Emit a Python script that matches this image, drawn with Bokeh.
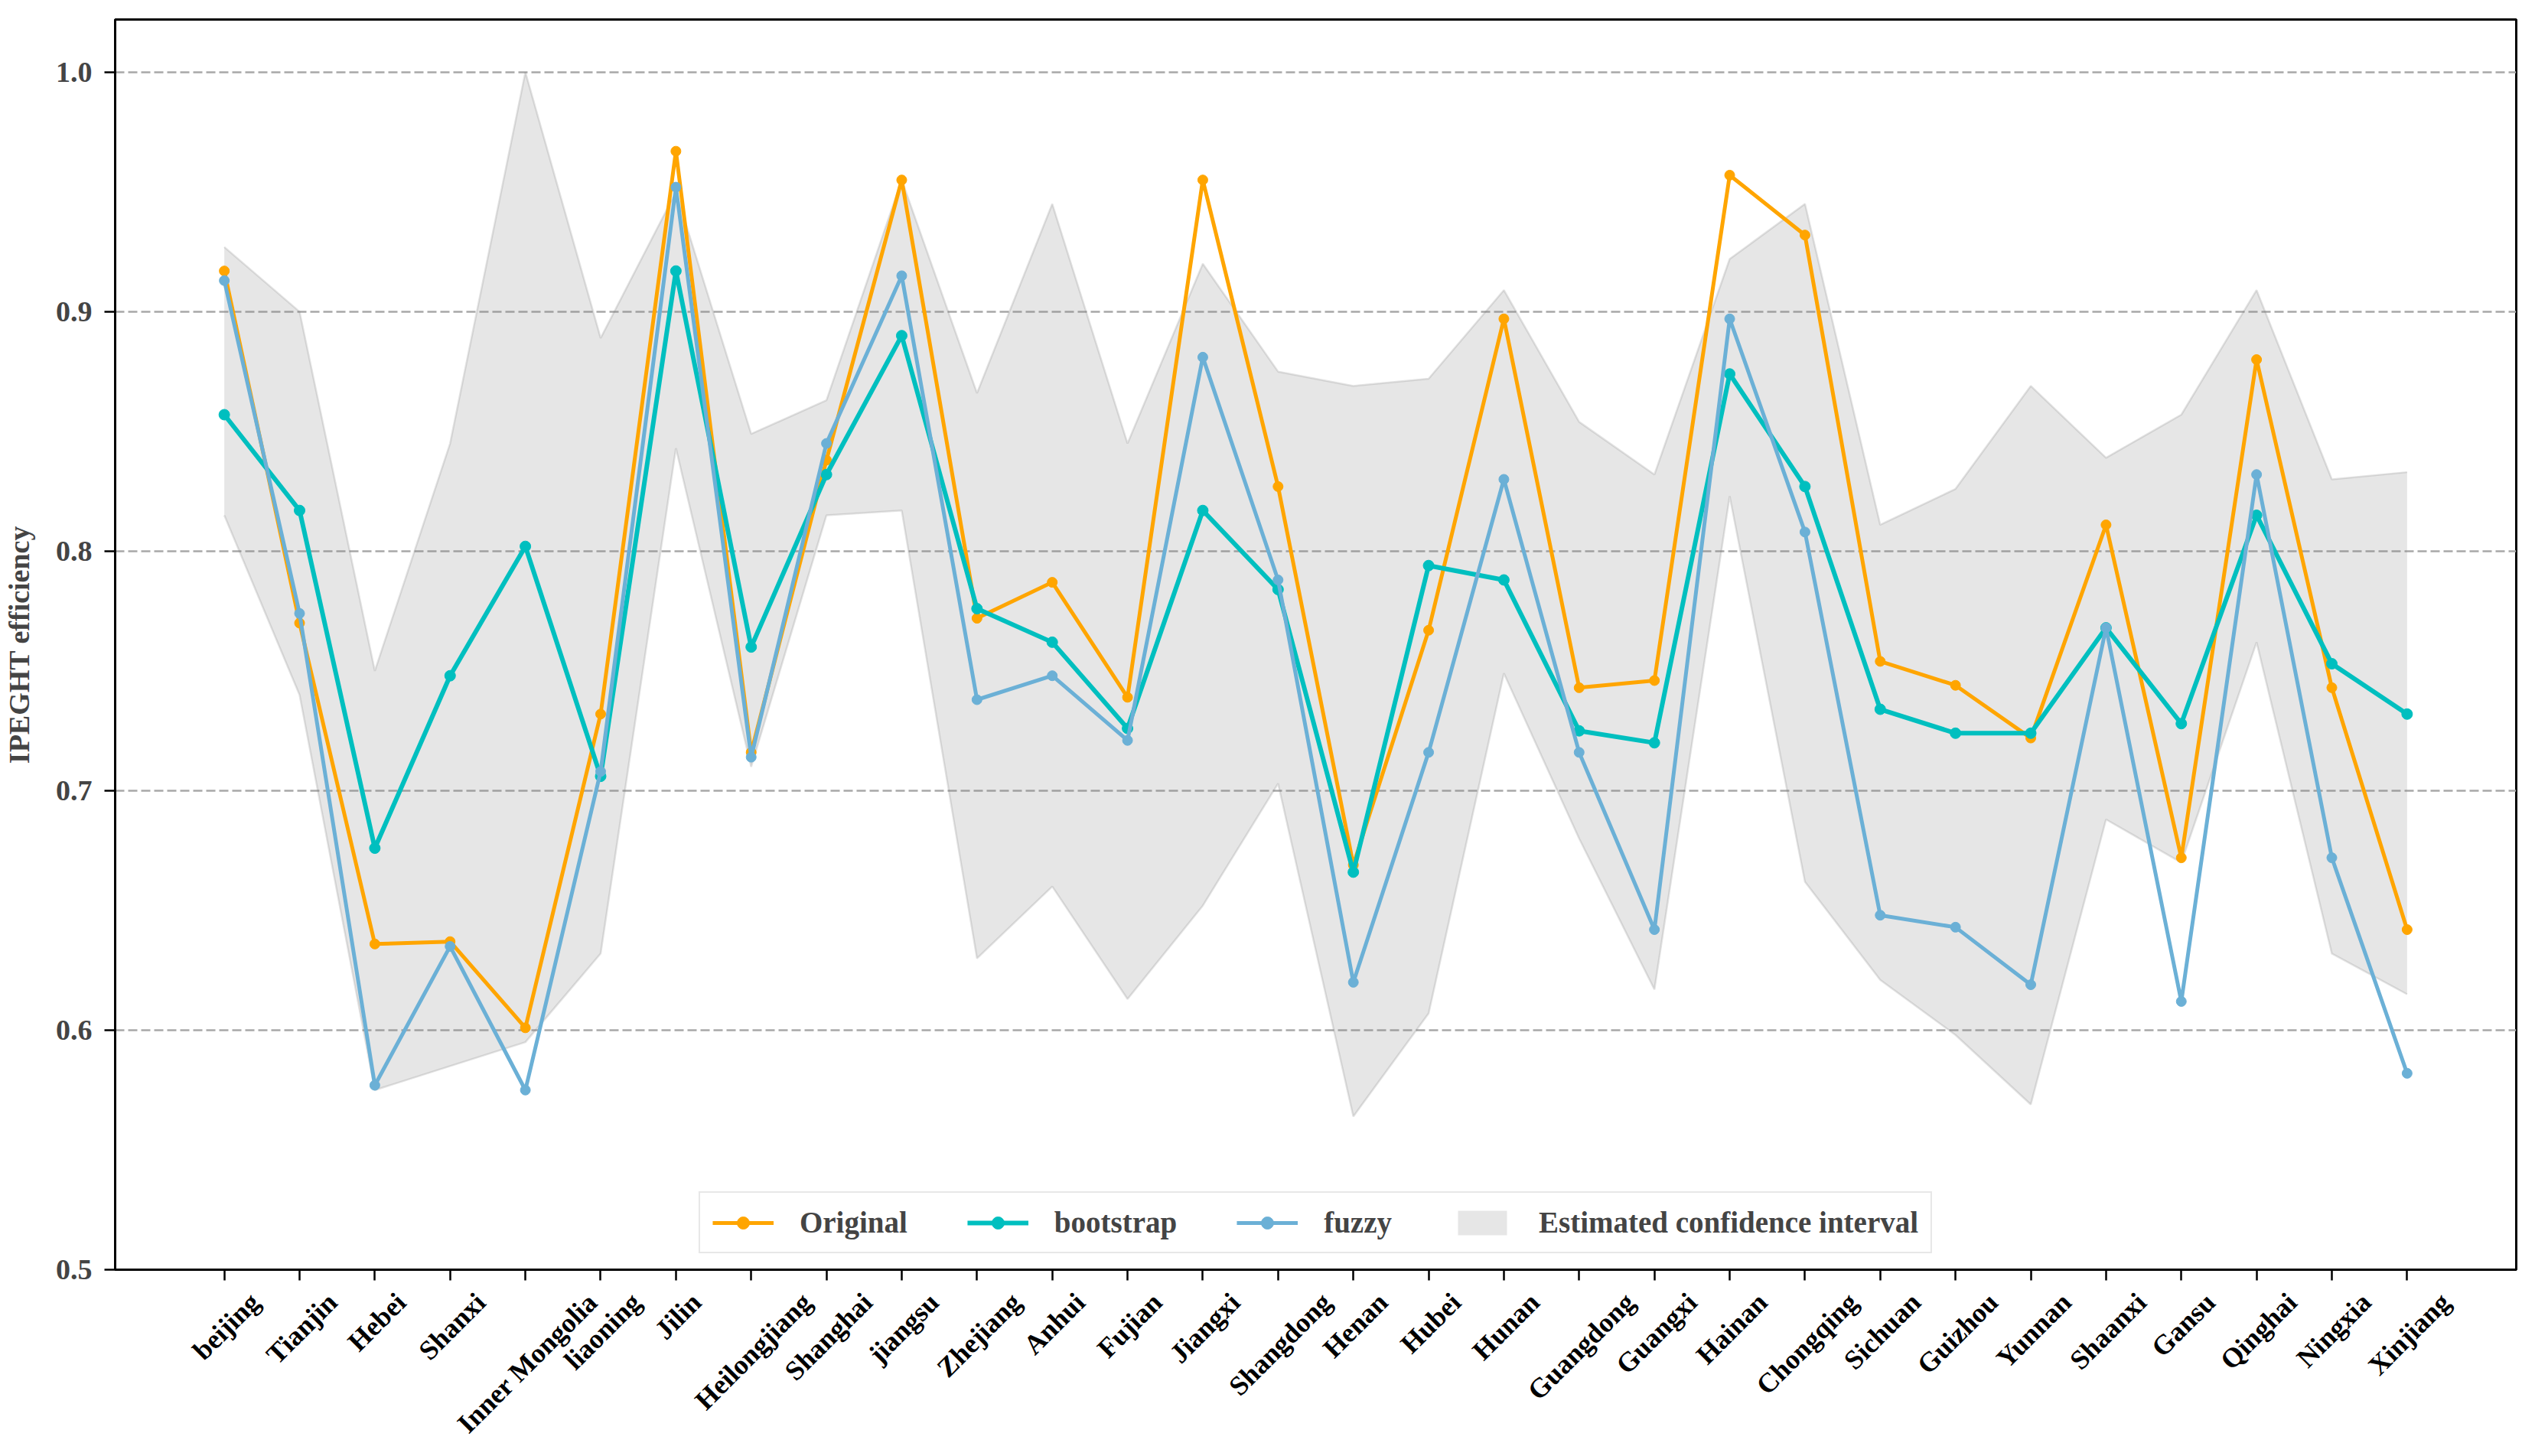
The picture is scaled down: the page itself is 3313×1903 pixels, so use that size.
import math
from bokeh.plotting import figure
from bokeh.layouts import column
from bokeh.models import (Range1d, FixedTicker, PrintfTickFormatter, Legend,
                          LegendItem, ColumnDataSource)
from bokeh.core.properties import value
from bokeh.embed import file_html
from bokeh.resources import INLINE

provinces = ["beijing", "Tianjin", "Hebei", "Shanxi", "Inner Mongolia", "liaoning",
             "Jilin", "Heilongjiang", "Shanghai", "jiangsu", "Zhejiang", "Anhui",
             "Fujian", "Jiangxi", "Shangdong", "Henan", "Hubei", "Hunan", "Guangdong",
             "Guangxi", "Hainan", "Chongqing", "Sichuan", "Guizhou", "Yunnan",
             "Shaanxi", "Gansu", "Qinghai", "Ningxia", "Xinjiang"]

original = [0.917, 0.770, 0.636, 0.637, 0.601, 0.732, 0.967, 0.716, 0.838, 0.955,
            0.772, 0.787, 0.739, 0.955, 0.827, 0.669, 0.767, 0.897, 0.743, 0.746,
            0.957, 0.932, 0.754, 0.744, 0.722, 0.811, 0.672, 0.880, 0.743, 0.642]

bootstrap = [0.857, 0.817, 0.676, 0.748, 0.802, 0.706, 0.917, 0.760, 0.832, 0.890,
             0.776, 0.762, 0.726, 0.817, 0.784, 0.666, 0.794, 0.788, 0.725, 0.720,
             0.874, 0.827, 0.734, 0.724, 0.724, 0.768, 0.728, 0.815, 0.753, 0.732]

fuzzy = [0.913, 0.774, 0.577, 0.635, 0.575, 0.708, 0.952, 0.714, 0.845, 0.915,
         0.738, 0.748, 0.721, 0.881, 0.788, 0.620, 0.716, 0.830, 0.716, 0.642,
         0.897, 0.808, 0.648, 0.643, 0.619, 0.768, 0.612, 0.832, 0.672, 0.582]

ci_upper = [0.927, 0.900, 0.750, 0.845, 1.000, 0.889, 0.950, 0.849, 0.863, 0.955,
            0.866, 0.945, 0.845, 0.920, 0.875, 0.869, 0.872, 0.909, 0.854, 0.832,
            0.922, 0.945, 0.811, 0.826, 0.869, 0.839, 0.857, 0.909, 0.830, 0.833]

ci_lower = [0.815, 0.740, 0.575, 0.585, 0.595, 0.632, 0.843, 0.710, 0.815, 0.817,
            0.630, 0.660, 0.613, 0.652, 0.703, 0.564, 0.607, 0.749, 0.680, 0.617,
            0.823, 0.662, 0.621, 0.598, 0.569, 0.688, 0.670, 0.762, 0.632, 0.615]

y_ticks = [0.5, 0.6, 0.7, 0.8, 0.9, 1.0]

FONT = "Liberation Serif"
FS = 38
FS_LEG = 39
FS_X = 36
x = list(range(len(provinces)))

TOTAL_W, TOTAL_H = 3297, 1887
LEFT, RIGHT, TOP = 148, 9, 25
MAIN_BOTTOM = 22
MAIN_H = TOP + 1634 + MAIN_BOTTOM
LABEL_H = TOTAL_H - MAIN_H

x_range = Range1d(-1.45, len(provinces) - 1 + 1.45)

p = figure(width=TOTAL_W, height=MAIN_H, output_backend="svg", toolbar_location=None,
           x_range=x_range, y_range=Range1d(0.5, 1.022),
           min_border_left=LEFT, min_border_right=RIGHT, min_border_top=TOP,
           min_border_bottom=MAIN_BOTTOM)
p.background_fill_color = "white"
p.border_fill_color = "white"
p.outline_line_color = "black"
p.outline_line_width = 3
p.outline_line_alpha = 1

# confidence band
band = p.varea(x=x, y1=ci_lower, y2=ci_upper, fill_color="gray", fill_alpha=0.2)
p.line(x, ci_upper, line_color="gray", line_alpha=0.22, line_width=2.5)
p.line(x, ci_lower, line_color="gray", line_alpha=0.22, line_width=2.5)

lo = p.line(x, original, line_color="#FFA500", line_width=5)
so = p.scatter(x, original, marker="circle", size=13, fill_color="#FFA500", line_color="#FFA500")
lb = p.line(x, bootstrap, line_color="#00BFBF", line_width=6)
sb = p.scatter(x, bootstrap, marker="circle", size=14, fill_color="#00BFBF", line_color="#00BFBF")
lf = p.line(x, fuzzy, line_color="#6BB0D6", line_width=5)
sf = p.scatter(x, fuzzy, marker="circle", size=13, fill_color="#6BB0D6", line_color="#6BB0D6")

legend = Legend(items=[
    LegendItem(label="Original", renderers=[lo, so]),
    LegendItem(label="bootstrap", renderers=[lb, sb]),
    LegendItem(label="fuzzy", renderers=[lf, sf]),
    LegendItem(label="Estimated confidence interval", renderers=[band]),
], location="bottom_center", orientation="horizontal")
legend.label_text_font = FONT
legend.label_text_font_style = "bold"
legend.label_text_font_size = f"{FS_LEG}px"
legend.glyph_width = 80
legend.glyph_height = 40
legend.label_height = 40
legend.label_standoff = 34
legend.spacing = 78
legend.padding = 16
legend.margin = 21
legend.border_line_color = "#d0d0d0"
legend.border_line_width = 2
legend.background_fill_alpha = 0.85
p.add_layout(legend)

# axes
p.xaxis.ticker = FixedTicker(ticks=x)
p.xaxis.major_label_overrides = {i: "" for i in x}
p.xaxis.major_label_text_font = FONT
p.xaxis.major_label_text_font_size = "8px"
p.xaxis.major_label_standoff = 0
p.xaxis.major_tick_out = 14
p.xaxis.major_tick_in = 0
p.xaxis.minor_tick_out = 0
p.xaxis.minor_tick_in = 0
p.xaxis.axis_line_width = 3
p.xaxis.major_tick_line_width = 2.5

p.yaxis.ticker = FixedTicker(ticks=y_ticks)
p.yaxis.formatter = PrintfTickFormatter(format="%.1f")
p.yaxis.major_label_text_font = FONT
p.yaxis.major_label_text_font_style = "bold"
p.yaxis.major_label_text_font_size = f"{FS}px"
p.yaxis.major_label_standoff = 16
p.yaxis.major_tick_out = 14
p.yaxis.major_tick_in = 0
p.yaxis.minor_tick_out = 0
p.yaxis.minor_tick_in = 0
p.yaxis.axis_line_width = 3
p.yaxis.major_tick_line_width = 2.5
p.yaxis.axis_label = "IPEGHT efficiency"
p.yaxis.axis_label_text_font = FONT
p.yaxis.axis_label_text_font_style = "bold"
p.yaxis.axis_label_text_font_size = f"{FS}px"
p.yaxis.axis_label_standoff = 24

p.xgrid.visible = False
p.ygrid.ticker = FixedTicker(ticks=y_ticks)
p.ygrid.grid_line_color = "#a8a8a8"
p.ygrid.grid_line_dash = "12 5"
p.ygrid.grid_line_width = 2.5

# rotated category labels, centred under each tick (matplotlib rotation=45 style)
TW = {'a': 500, 'b': 556, 'c': 444, 'd': 556, 'e': 444, 'f': 333, 'g': 500, 'h': 556,
      'i': 278, 'j': 333, 'k': 556, 'l': 278, 'm': 833, 'n': 556, 'o': 500, 'p': 556,
      'q': 556, 'r': 444, 's': 389, 't': 333, 'u': 556, 'v': 500, 'w': 722, 'x': 500,
      'y': 500, 'z': 444, ' ': 250, 'A': 722, 'B': 667, 'C': 722, 'D': 722, 'E': 667,
      'F': 611, 'G': 778, 'H': 778, 'I': 389, 'J': 500, 'K': 778, 'L': 667, 'M': 944,
      'N': 722, 'O': 778, 'P': 611, 'Q': 778, 'R': 722, 'S': 556, 'T': 667, 'U': 722,
      'V': 722, 'W': 1000, 'X': 722, 'Y': 722, 'Z': 667}


def text_width(s, size):
    return sum(TW.get(c, 500) for c in s) / 1000.0 * size


offsets = []
for name in provinces:
    W = text_width(name, FS_X)
    H = FS_X * 0.9
    offsets.append((W - H) / (2 * math.sqrt(2)))

lab = figure(width=TOTAL_W, height=LABEL_H, output_backend="svg", toolbar_location=None,
             x_range=x_range, y_range=Range1d(0, LABEL_H),
             x_axis_location=None, y_axis_location=None,
             min_border_left=LEFT, min_border_right=RIGHT, min_border_top=0,
             min_border_bottom=0)
lab.outline_line_color = None
lab.grid.visible = False
lab.background_fill_color = "white"
lab.border_fill_color = "white"

src = ColumnDataSource(dict(x=x, y=[LABEL_H - 0.5] * len(x), text=provinces, xo=offsets))
lab.text(x="x", y="y", text="text", x_offset="xo", source=src, angle=math.pi / 4,
         text_align="right", text_baseline="top", text_font=value(FONT),
         text_font_style="bold", text_font_size=value(f"{FS_X}px"), text_color="black")

layout = column(p, lab, spacing=0)
open("out.html", "w").write(file_html(layout, INLINE))
